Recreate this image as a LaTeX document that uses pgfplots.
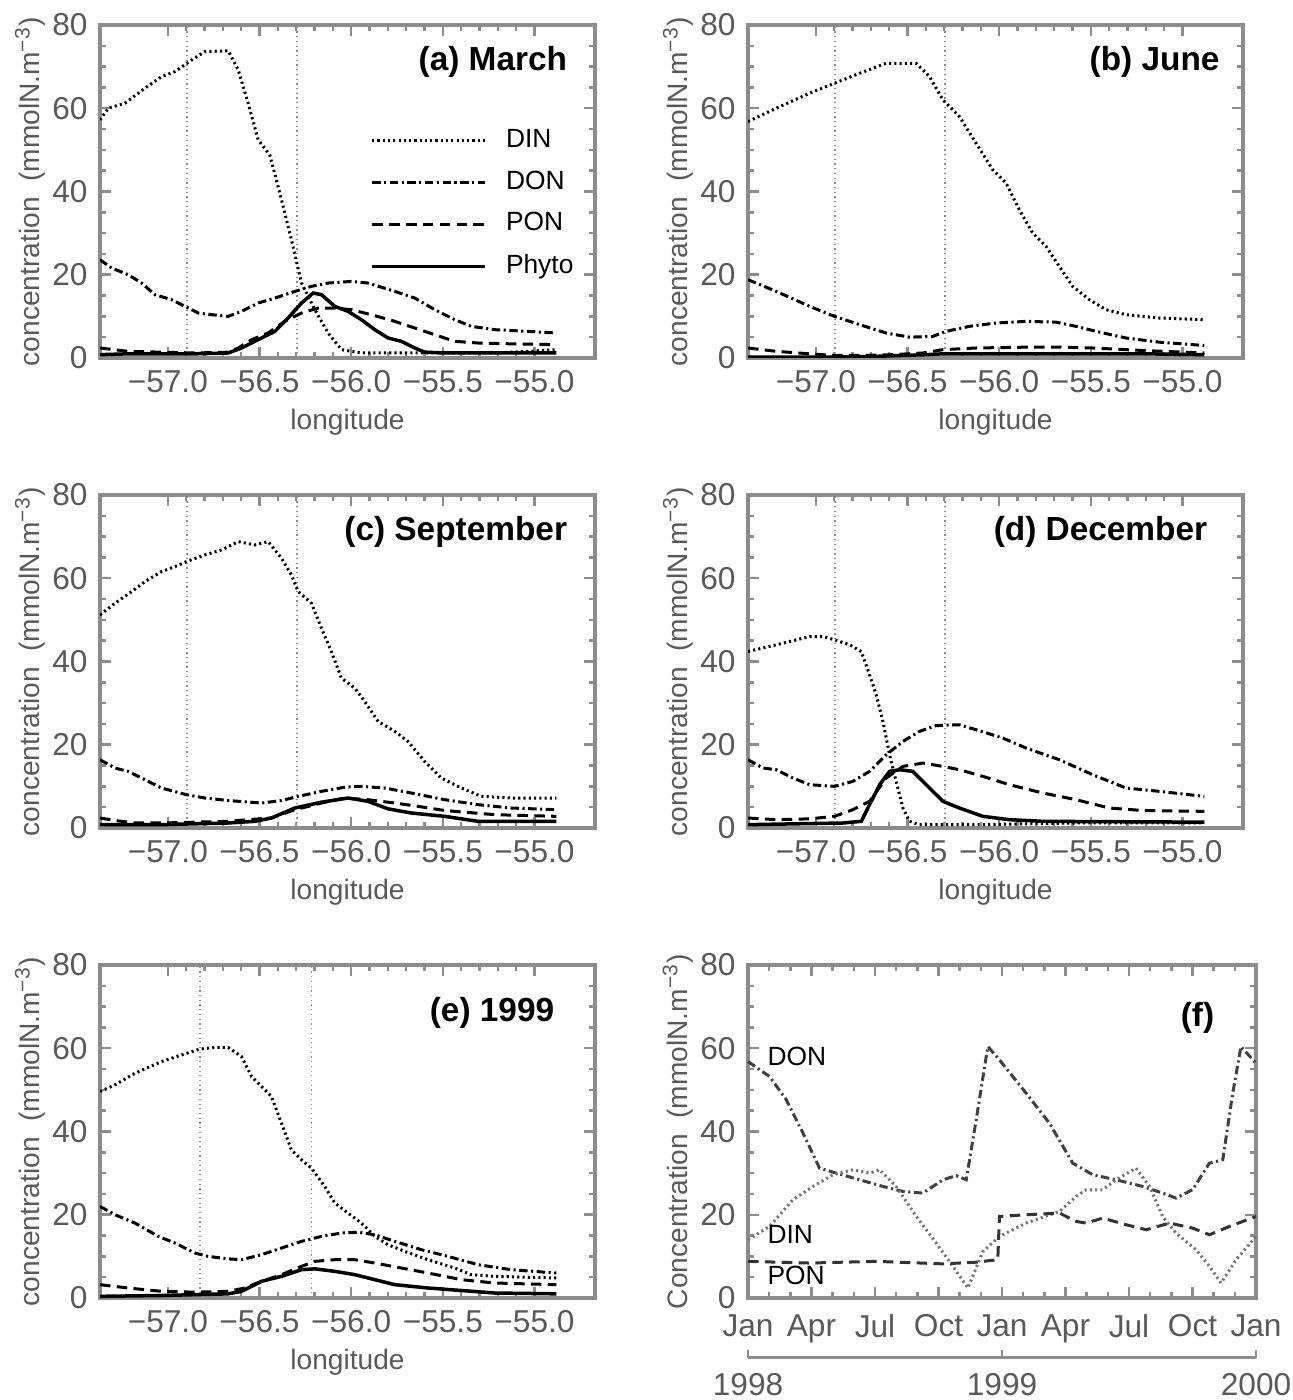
\documentclass[border=0pt]{standalone}
\usepackage{fontspec}
\setmainfont{Liberation Sans}
\usepackage{pgfplots}
\pgfplotsset{compat=1.18}

\definecolor{axgray}{gray}{0.55}
\definecolor{txtgray}{gray}{0.35}

\tikzset{
  ptitle/.style={anchor=east, inner sep=0pt, font=\fontsize{9.5}{11}\selectfont\bfseries},
  plabel/.style={anchor=west, inner sep=0pt, font=\fontsize{7.5}{9}\selectfont},
}

\pgfplotsset{
  base/.style={
    scale only axis, height=33.3mm,
    ymin=0, ymax=80, ytick={0,20,40,60,80},
    minor y tick num=3,
    major tick length=1.1mm, minor tick length=0.6mm,
    axis line style={axgray, line width=0.35mm},
    tick style={axgray, line width=0.25mm},
    /pgf/number format/assume math mode=true,
    ticklabel style={font=\fontsize{9}{10}\selectfont, text=txtgray},
    label style={font=\fontsize{8}{10}\selectfont, text=txtgray},
    ylabel style={at={(axis description cs:-0.141,0.5)}, anchor=center},
  },
  lon/.style={
    base, width=49.5mm,
    xmin=-57.37, xmax=-54.67,
    xtick={-57,-56.5,-56,-55.5,-55},
    xticklabels={−57.0,−56.5,−56.0,−55.5,−55.0},
    minor x tick num=4,
    xlabel={longitude},
    ylabel={concentration~~(mmolN.m\textsuperscript{−3})},
    xlabel style={at={(axis description cs:0.5,-0.192)}, anchor=center},
  },
  vline/.style={axgray, line width=0.12mm, densely dotted, forget plot},
  din/.style={black, line width=0.3mm, dash pattern=on 0.6pt off 0.9pt},
  don/.style={black, line width=0.3mm, dash pattern=on 2.4pt off 1pt on 0.6pt off 1pt},
  pon/.style={black, line width=0.3mm, dash pattern=on 3pt off 1.8pt},
  phy/.style={black, line width=0.35mm},
}

\begin{document}
\begin{tikzpicture}
\useasboundingbox (0,0) rectangle (129.2mm,140mm);

% (a) March
\begin{axis}[lon, at={(10mm,104.2mm)}, anchor=south west,
  legend style={draw=none, fill=none, inner sep=0pt,
    at={(axis description cs:0.545,0.71)}, anchor=north west,
    font=\fontsize{7.5}{9}\selectfont, row sep=0.4mm,
    /tikz/every odd column/.append style={column sep=1.2mm}},
  legend cell align=left,
  legend image code/.code={\draw[#1] (0mm,0mm) -- (11.3mm,0mm);}]
\addplot[vline] coordinates {(-56.896,0) (-56.896,80)};
\addplot[vline] coordinates {(-56.296,0) (-56.296,80)};
\addplot[din] coordinates {(-57.370,57.2) (-57.325,60) (-57.234,61.2) (-57.125,64.8) (-57.034,67.6) (-56.961,68.8) (-56.870,71.6) (-56.798,73.6) (-56.671,73.8) (-56.616,69.2) (-56.562,61.2) (-56.507,52.4) (-56.444,48.8) (-56.389,39.6) (-56.326,28.4) (-56.271,18) (-56.198,11.6) (-56.126,6) (-56.053,2) (-55.944,1.2) (-55.581,1.2) (-55.217,1.2) (-55.036,1.6) (-54.881,2)};
\addlegendentry{DIN}
\addplot[don] coordinates {(-57.370,23.6) (-57.306,21.6) (-57.216,20) (-57.143,18) (-57.070,15.2) (-56.979,14) (-56.907,12.4) (-56.834,10.8) (-56.761,10.4) (-56.671,10) (-56.598,11.2) (-56.507,13.2) (-56.416,14.4) (-56.307,16) (-56.217,17.2) (-56.126,18) (-55.999,18.4) (-55.908,18) (-55.762,16) (-55.653,14.4) (-55.544,11.6) (-55.435,9.2) (-55.345,7.6) (-55.217,6.8) (-55.036,6.4) (-54.881,6)};
\addlegendentry{DON}
\addplot[pon] coordinates {(-57.370,2.4) (-57.216,1.6) (-57.034,1.4) (-56.852,1.2) (-56.671,1.4) (-56.616,2.4) (-56.543,4.4) (-56.453,6) (-56.362,8.8) (-56.271,10.8) (-56.180,12) (-56.089,12) (-55.999,11.6) (-55.890,10.4) (-55.762,8.8) (-55.653,7.2) (-55.544,5.6) (-55.435,4) (-55.308,3.6) (-55.127,3.4) (-54.881,3.2)};
\addlegendentry{PON}
\addplot[phy] coordinates {(-57.370,0.8) (-57.216,1) (-56.852,1) (-56.671,1.2) (-56.598,2.4) (-56.507,4.4) (-56.416,6.4) (-56.344,9.6) (-56.271,13.2) (-56.207,15.6) (-56.162,15.2) (-56.089,12.4) (-56.017,11.2) (-55.944,9.2) (-55.871,6.8) (-55.799,4.8) (-55.726,4) (-55.653,2.4) (-55.599,1.4) (-55.490,1.2) (-54.881,1.2)};
\addlegendentry{Phyto}
\node[ptitle] at (rel axis cs:0.945,0.889) {(a) March};
\end{axis}

% (b) June
\begin{axis}[lon, at={(74.8mm,104.2mm)}, anchor=south west]
\addplot[vline] coordinates {(-56.896,0) (-56.896,80)};
\addplot[vline] coordinates {(-56.296,0) (-56.296,80)};
\addplot[din] coordinates {(-57.370,56.8) (-57.216,60) (-57.034,63.6) (-56.898,66) (-56.761,68.4) (-56.616,70.8) (-56.453,70.8) (-56.380,67.6) (-56.307,62) (-56.217,58) (-56.126,51.6) (-56.035,45.2) (-55.962,42) (-55.890,35.6) (-55.817,30) (-55.744,26.8) (-55.672,22) (-55.599,17.2) (-55.508,14) (-55.417,11.6) (-55.308,10.4) (-55.127,9.6) (-54.881,9.2)};
\addplot[don] coordinates {(-57.370,18.8) (-57.216,16) (-57.034,12.4) (-56.898,10) (-56.761,8) (-56.616,6) (-56.489,5) (-56.362,5.2) (-56.289,6.4) (-56.162,7.6) (-56.017,8.4) (-55.853,8.8) (-55.690,8.6) (-55.581,7.6) (-55.472,6.4) (-55.308,4.8) (-55.127,3.8) (-54.881,3)};
\addplot[pon] coordinates {(-57.370,2.4) (-57.216,1.6) (-57.034,1) (-56.898,0.6) (-56.761,0.6) (-56.580,0.8) (-56.416,1.2) (-56.307,2) (-56.126,2.4) (-55.853,2.6) (-55.672,2.6) (-55.490,2.4) (-55.217,1.8) (-54.881,1.2)};
\addplot[phy] coordinates {(-57.370,0.2) (-56.898,0.2) (-56.671,0.4) (-56.398,0.8) (-56.307,1) (-55.944,1) (-55.217,1) (-54.881,0.8)};
\node[ptitle] at (rel axis cs:0.954,0.889) {(b) June};
\end{axis}

% (c) September
\begin{axis}[lon, at={(10mm,57.2mm)}, anchor=south west]
\addplot[vline] coordinates {(-56.896,0) (-56.896,80)};
\addplot[vline] coordinates {(-56.296,0) (-56.296,80)};
\addplot[din] coordinates {(-57.370,51.2) (-57.288,54) (-57.197,56.8) (-57.125,59.2) (-57.034,61.6) (-56.961,62.8) (-56.898,64) (-56.798,65.6) (-56.707,66.8) (-56.616,68.8) (-56.525,68) (-56.453,68.8) (-56.380,64.8) (-56.326,60.8) (-56.289,56.8) (-56.217,54) (-56.162,48) (-56.108,42.4) (-56.053,36) (-55.980,33.6) (-55.926,30.4) (-55.853,25.6) (-55.762,23.2) (-55.690,20.8) (-55.599,16) (-55.508,12) (-55.399,9.6) (-55.290,7.6) (-55.127,7.2) (-54.881,7.2)};
\addplot[don] coordinates {(-57.370,16.4) (-57.288,14.4) (-57.216,13.6) (-57.125,11.6) (-57.034,9.6) (-56.898,8) (-56.798,7.2) (-56.671,6.6) (-56.489,6) (-56.380,6.6) (-56.289,7.6) (-56.162,8.8) (-56.035,9.8) (-55.944,10) (-55.817,9.6) (-55.672,8.4) (-55.490,6.8) (-55.308,5.6) (-55.127,4.8) (-54.881,4.4)};
\addplot[pon] coordinates {(-57.370,2.4) (-57.288,1.8) (-57.179,1.2) (-57.034,1.2) (-56.852,1.4) (-56.671,1.6) (-56.562,2) (-56.435,2.4) (-56.307,4.4) (-56.162,6) (-56.035,7.2) (-55.908,6.8) (-55.762,6) (-55.635,5.2) (-55.490,4.2) (-55.217,3.2) (-54.881,2.8)};
\addplot[phy] coordinates {(-57.370,0.8) (-57.034,0.8) (-56.671,1.2) (-56.525,1.6) (-56.435,2.4) (-56.307,4.8) (-56.162,6.2) (-56.017,7.2) (-55.908,6.4) (-55.799,4.6) (-55.672,3.6) (-55.490,2.8) (-55.308,1.6) (-54.881,1.6)};
\node[ptitle] at (rel axis cs:0.945,0.889) {(c) September};
\end{axis}

% (d) December
\begin{axis}[lon, at={(74.8mm,57.2mm)}, anchor=south west]
\addplot[vline] coordinates {(-56.896,0) (-56.896,80)};
\addplot[vline] coordinates {(-56.296,0) (-56.296,80)};
\addplot[din] coordinates {(-57.370,42.4) (-57.216,44) (-57.034,46) (-56.961,46) (-56.898,45.2) (-56.816,44) (-56.752,42.4) (-56.707,36.8) (-56.671,32) (-56.634,25.6) (-56.598,17.6) (-56.562,11.2) (-56.525,4.8) (-56.489,1.6) (-56.435,0.8) (-56.126,0.8) (-55.581,1.2) (-54.881,1.2)};
\addplot[don] coordinates {(-57.370,16.4) (-57.288,14.4) (-57.216,14) (-57.125,12) (-57.034,10.4) (-56.898,10) (-56.798,11.2) (-56.707,13.6) (-56.616,17.6) (-56.525,20.8) (-56.435,23.2) (-56.344,24.6) (-56.217,24.8) (-56.126,23.6) (-55.980,21.6) (-55.853,19.2) (-55.672,16.4) (-55.490,12.8) (-55.308,9.6) (-55.127,8.8) (-54.881,7.6)};
\addplot[pon] coordinates {(-57.370,2.4) (-57.216,2) (-57.034,2.2) (-56.898,2.8) (-56.798,4.4) (-56.707,6.4) (-56.616,12) (-56.525,14.8) (-56.416,15.6) (-56.307,14.8) (-56.217,14) (-56.089,12.4) (-55.944,10.4) (-55.762,8.4) (-55.581,6.8) (-55.399,4.8) (-55.217,4.2) (-54.881,4)};
\addplot[phy] coordinates {(-57.370,0.8) (-56.852,1.2) (-56.752,1.6) (-56.707,5.6) (-56.652,10.4) (-56.598,13.6) (-56.543,14) (-56.471,13.6) (-56.398,10.4) (-56.307,6.4) (-56.217,4.8) (-56.089,2.8) (-55.944,2) (-55.762,1.6) (-54.881,1.4)};
\node[ptitle] at (rel axis cs:0.929,0.889) {(d) December};
\end{axis}

% (e) 1999
\begin{axis}[lon, at={(10mm,10.2mm)}, anchor=south west]
\addplot[vline] coordinates {(-56.825,0) (-56.825,80)};
\addplot[vline] coordinates {(-56.215,0) (-56.215,80)};
\addplot[din] coordinates {(-57.370,49.6) (-57.288,51.2) (-57.179,54) (-57.034,56.8) (-56.925,58.4) (-56.825,59.8) (-56.743,60.2) (-56.671,60.2) (-56.598,58) (-56.543,53.2) (-56.489,50.8) (-56.435,48.4) (-56.380,42) (-56.326,35.6) (-56.271,33.2) (-56.217,31.2) (-56.144,26.8) (-56.089,22.8) (-56.017,20.4) (-55.944,18) (-55.871,14.8) (-55.799,12.8) (-55.708,11.2) (-55.581,9.2) (-55.435,7.2) (-55.345,5.6) (-55.217,5.2) (-54.881,4.8)};
\addplot[don] coordinates {(-57.370,22) (-57.288,20) (-57.179,18) (-57.052,14.8) (-56.961,13.2) (-56.852,10.8) (-56.780,10) (-56.671,9.4) (-56.598,9.2) (-56.489,10.4) (-56.380,12) (-56.271,13.6) (-56.162,14.8) (-56.053,15.6) (-55.962,15.8) (-55.871,15.2) (-55.762,13.6) (-55.617,11.6) (-55.472,10) (-55.308,8) (-55.127,6.8) (-54.881,6)};
\addplot[pon] coordinates {(-57.370,3.2) (-57.216,2.4) (-57.034,1.6) (-56.852,1.4) (-56.671,1.6) (-56.580,2.4) (-56.489,4) (-56.380,5.6) (-56.271,7.6) (-56.198,8.8) (-56.089,9.2) (-55.980,9.2) (-55.871,8.4) (-55.726,7.2) (-55.581,6) (-55.399,4.4) (-55.217,3.6) (-54.881,3.2)};
\addplot[phy] coordinates {(-57.370,0.4) (-57.034,0.6) (-56.671,1) (-56.598,1.6) (-56.489,4) (-56.380,5.2) (-56.271,6.8) (-56.198,7) (-56.089,6.4) (-55.980,5.6) (-55.871,4.4) (-55.762,3.2) (-55.581,2.4) (-55.399,1.8) (-55.217,1.2) (-54.881,1)};
\node[ptitle] at (rel axis cs:0.919,0.856) {(e) 1999};
\end{axis}

% (f) time series
\begin{axis}[base, width=50.8mm, at={(74.8mm,10.2mm)}, anchor=south west,
  xmin=0, xmax=24, xtick={0,3,...,24},
  xticklabels={Jan,Apr,Jul,Oct,Jan,Apr,Jul,Oct,Jan},
  minor x tick num=2, clip=false,
  xticklabel style={yshift=-0.4mm},
  ylabel={Concentration~~(mmolN.m\textsuperscript{−3})},
  ylabel style={at={(axis description cs:-0.138,0.5)}, anchor=center}]
\addplot[don, black!75] coordinates {(0,56.8) (1.02,53.2) (1.81,47.6) (2.6,39.6) (3.38,31.2) (4.17,30) (5.27,28.4) (6.37,26.8) (7.32,25.6) (8.26,25.2) (9.21,28.4) (9.84,29.4) (10.31,28.4) (10.78,42.8) (11.33,60.4) (11.88,57.2) (13.14,49.2) (14.24,42) (15.34,32.4) (16.29,29.6) (17.39,28.4) (18.65,26.8) (19.59,25.2) (20.22,24) (21.0,26) (21.8,32.4) (22.43,33.2) (22.9,49.2) (23.29,60.4) (24,56.4)};
\addplot[din, black!55] coordinates {(0,14) (1.02,17.2) (2.12,23.6) (3.07,26.8) (4.01,29.6) (4.96,30.8) (5.74,30) (6.22,30.8) (7.0,26.8) (7.95,19.6) (8.89,13.2) (9.68,7.6) (10.39,2.4) (11.1,11.2) (11.88,14.8) (13.14,18) (14.72,20.8) (15.5,24.4) (15.97,26) (16.76,26) (17.39,28.4) (18.33,31.2) (18.97,26.8) (19.59,19.6) (20.22,15.6) (21.17,11.6) (21.8,7.6) (22.35,3.6) (23.06,9.2) (24,14.8)};
\addplot[pon, black!80] coordinates {(0,8.8) (2.91,8.4) (6.06,8.8) (9.21,8.2) (10.78,8.6) (11.8,9.2) (11.88,19.6) (13.14,20) (14.72,20.4) (15.5,18.4) (15.97,18) (16.76,19.2) (17.86,17.6) (18.81,16.4) (19.91,18) (21.0,16.8) (21.8,15.2) (22.75,17.2) (24,19.6)};
\node[plabel] at (rel axis cs:0.037,0.725) {DON};
\node[plabel] at (rel axis cs:0.037,0.19) {DIN};
\node[plabel] at (rel axis cs:0.037,0.069) {PON};
\node[ptitle] at (rel axis cs:0.919,0.84) {(f)};
% year axis below the months
\draw[axgray, line width=0.3mm] (axis cs:0,-14.4) -- (axis cs:24,-14.4);
\draw[axgray, line width=0.25mm] (axis cs:0,-14.4) -- ++(0,0.8mm);
\draw[axgray, line width=0.25mm] (axis cs:12,-14.4) -- ++(0,0.8mm);
\draw[axgray, line width=0.25mm] (axis cs:24,-14.4) -- ++(0,0.8mm);
\node[font=\fontsize{9}{10}\selectfont, text=txtgray] at (axis cs:0,-20.9) {1998};
\node[font=\fontsize{9}{10}\selectfont, text=txtgray] at (axis cs:12,-20.9) {1999};
\node[font=\fontsize{9}{10}\selectfont, text=txtgray] at (axis cs:24,-20.9) {2000};
\end{axis}
\end{tikzpicture}
\end{document}
